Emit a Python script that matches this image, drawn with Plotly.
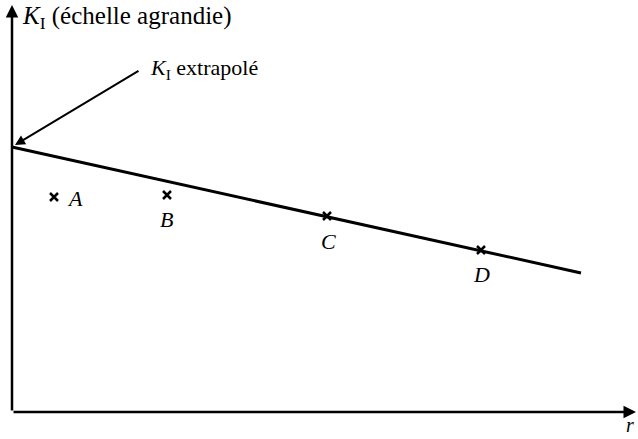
import plotly.graph_objects as go

# points mesures (r, K_I), echelle arbitraire
labels = ["A", "B", "C", "D"]
r_pts = [0.84, 3.10, 6.30, 9.38]
k_pts = [4.30, 4.34, 3.92, 3.24]

# droite d'extrapolation
r_line = [0.0, 11.38]
k_line = [5.30, 2.78]

# position des lettres
lab_x = [1.26, 3.08, 6.32, 9.38]
lab_y = [4.28, 3.86, 3.42, 2.76]

FONT = "'Liberation Serif', 'Times New Roman', serif"

fig = go.Figure()
fig.add_trace(go.Scatter(x=r_line, y=k_line, mode="lines",
                         line=dict(color="black", width=3)))
fig.add_trace(go.Scatter(x=r_pts, y=k_pts, mode="markers",
                         marker=dict(symbol="x-thin", size=8,
                                     line=dict(color="black", width=2.5))))

ann = []
for t, x, y in zip(labels, lab_x, lab_y):
    ann.append(dict(x=x, y=y, text="<i>%s</i>" % t, showarrow=False,
                    font=dict(size=22, family=FONT, color="black")))

# axes avec fleches
arrow = dict(axref="x", ayref="y", text="", showarrow=True, arrowhead=2,
             arrowsize=1, arrowwidth=2.5, arrowcolor="black",
             font=dict(size=12))
ann.append(dict(x=0, y=8.14, ax=0, ay=0, **arrow))
ann.append(dict(x=12.48, y=0, ax=0, ay=0, **arrow))
# fleche K_I extrapole
ann.append(dict(x=0.06, y=5.34, ax=2.56, ay=6.84, **dict(arrow, arrowwidth=2)))
ann.append(dict(x=2.72, y=6.86, xanchor="left", showarrow=False,
                text="<i>K</i><sub>I</sub> extrapolé",
                font=dict(size=22, family=FONT, color="black")))
ann.append(dict(x=0.16, y=7.9, xanchor="left", showarrow=False,
                text="<i>K</i><sub>I</sub> (échelle agrandie)",
                font=dict(size=25, family=FONT, color="black")))
ann.append(dict(x=12.36, y=-0.26, showarrow=False, text="<i>r</i>",
                font=dict(size=20, family=FONT, color="black")))

fig.update_layout(
    width=638, height=439,
    margin=dict(l=0, r=0, t=0, b=0),
    paper_bgcolor="white", plot_bgcolor="white",
    showlegend=False,
    annotations=ann,
    xaxis=dict(range=[-0.24, 12.52], visible=False),
    yaxis=dict(range=[-0.54, 8.24], visible=False),
)

fig.write_html("out.html", config={"displayModeBar": False},
               post_script="document.body.style.margin='0';")
